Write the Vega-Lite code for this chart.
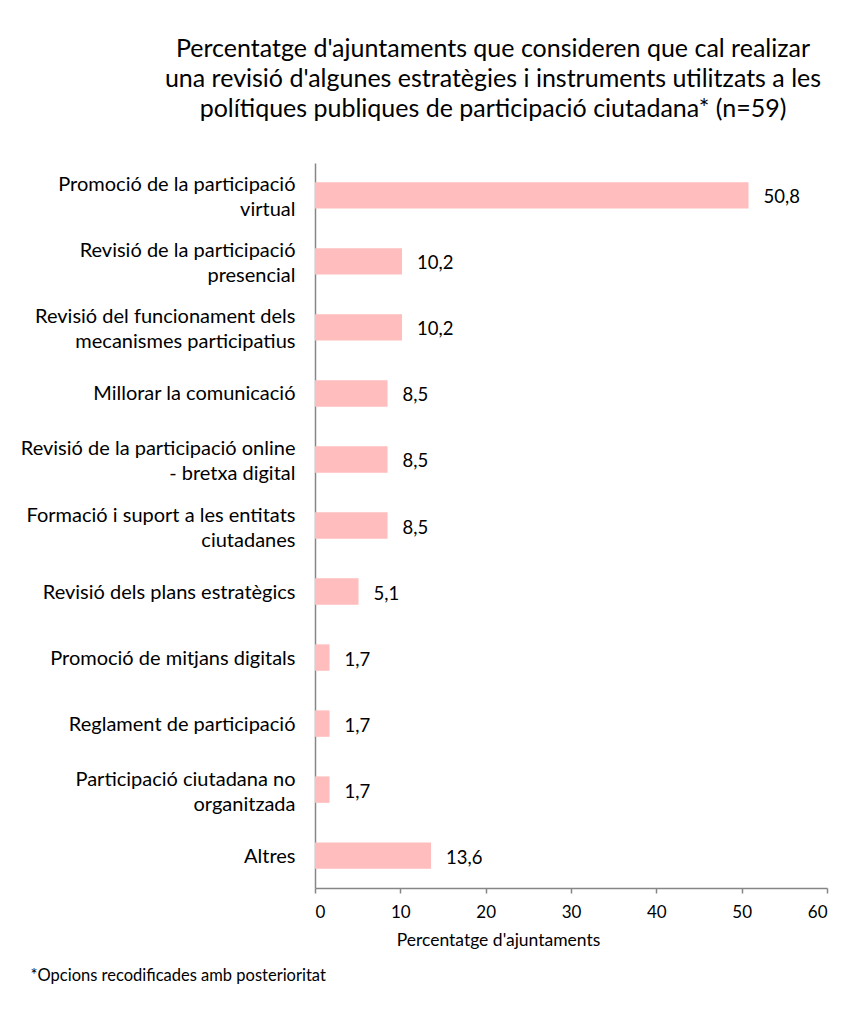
{
  "$schema": "https://vega.github.io/schema/vega-lite/v6.json",
  "width": 512,
  "height": 725,
  "autosize": {"type": "none"},
  "padding": {"left": 315, "top": 163, "right": 26, "bottom": 128},
  "background": "#ffffff",
  "config": {
    "locale": {"number": {"decimal": ",", "thousands": ".", "grouping": [3], "currency": ["", " €"]}},
    "view": {"stroke": null},
    "font": "Lato"
  },
  "title": {
    "text": ["Percentatge d'ajuntaments que consideren que cal realizar", "una revisió d'algunes estratègies i instruments utilitzats a les", "polítiques publiques de participació ciutadana* (n=59)"],
    "font": "Lato",
    "fontSize": 25,
    "fontWeight": "normal",
    "color": "#000000",
    "anchor": "middle",
    "frame": "group",
    "dx": -78,
    "offset": 41,
    "lineHeight": 30
  },
  "data": {
    "values": [
      {"cat": "Promoció de la participació\nvirtual", "pct": 50.8},
      {"cat": "Revisió de la participació\npresencial", "pct": 10.2},
      {"cat": "Revisió del funcionament dels\nmecanismes participatius", "pct": 10.2},
      {"cat": "Millorar la comunicació", "pct": 8.5},
      {"cat": "Revisió de la participació online\n- bretxa digital", "pct": 8.5},
      {"cat": "Formació i suport a les entitats\nciutadanes", "pct": 8.5},
      {"cat": "Revisió dels plans estratègics", "pct": 5.1},
      {"cat": "Promoció de mitjans digitals", "pct": 1.7},
      {"cat": "Reglament de participació", "pct": 1.7},
      {"cat": "Participació ciutadana no\norganitzada", "pct": 1.7},
      {"cat": "Altres", "pct": 13.6}
    ]
  },
  "encoding": {
    "y": {
      "field": "cat",
      "type": "nominal",
      "sort": null,
      "scale": {"paddingInner": 0.6, "paddingOuter": 0.29},
      "axis": {
        "domain": true,
        "domainColor": "#868686",
        "domainWidth": 1.5,
        "ticks": false,
        "labelExpr": "split(datum.value, '\\n')",
        "labelOffset": {"expr": "indexof(datum.value, '\\n') >= 0 ? -10 : 1"},
        "labelFont": "Lato",
        "labelFontSize": 20,
        "labelColor": "#000000",
        "labelPadding": 20,
        "labelLimit": 0,
        "labelLineHeight": 25,
        "title": "*Opcions recodificades amb posterioritat",
        "titleFont": "Lato",
        "titleFontSize": 16.5,
        "titleFontWeight": "normal",
        "titleColor": "#000000",
        "titleAngle": 0,
        "titleAlign": "left",
        "titleBaseline": "middle",
        "titleX": -285,
        "titleY": 812
      }
    }
  },
  "layer": [
    {
      "mark": {"type": "bar", "color": "#FFBDBD"},
      "encoding": {
        "x": {
          "field": "pct",
          "type": "quantitative",
          "scale": {"domain": [0, 60], "nice": false},
          "axis": {
            "values": [0, 10, 20, 30, 40, 50, 60],
            "grid": false,
            "domainColor": "#868686",
            "domainWidth": 1.5,
            "tickColor": "#868686",
            "tickWidth": 1.5,
            "tickSize": 5,
            "labelFont": "Lato",
            "labelFontSize": 17,
            "labelColor": "#000000",
            "labelPadding": 11,
            "title": "Percentatge d'ajuntaments",
            "titleFont": "Lato",
            "titleFontSize": 17.5,
            "titleFontWeight": "normal",
            "titleColor": "#000000",
            "titleX": 183,
            "titleY": 52,
            "titleBaseline": "middle"
          }
        }
      }
    },
    {
      "mark": {"type": "text", "align": "left", "baseline": "middle", "dx": 15, "dy": 2, "fontSize": 18.5, "font": "Lato", "color": "#000000"},
      "encoding": {
        "x": {"field": "pct", "type": "quantitative"},
        "text": {"field": "pct", "type": "quantitative", "format": ".1f"}
      }
    }
  ]
}
